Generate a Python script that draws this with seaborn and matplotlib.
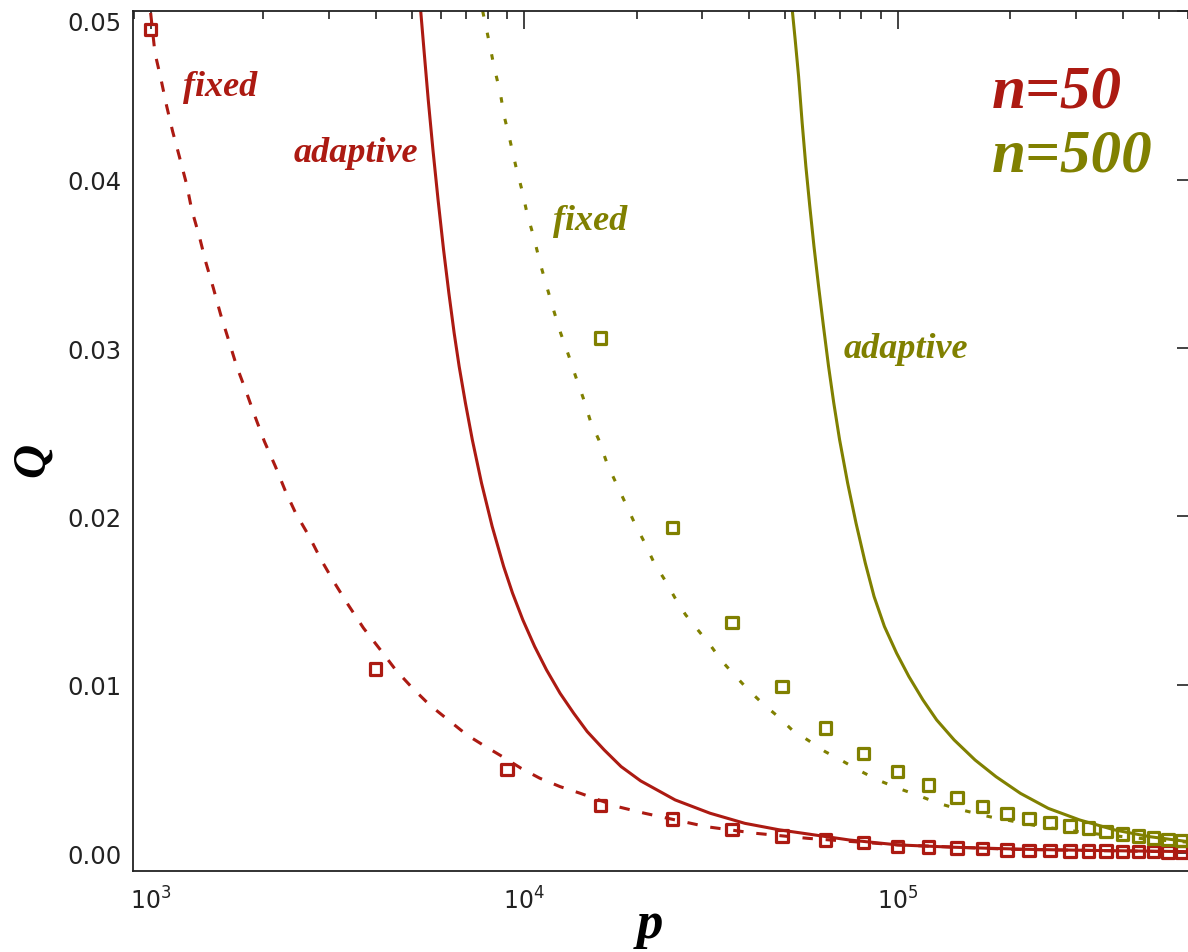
import numpy as np
import pandas as pd
import matplotlib
matplotlib.use("Agg")
import matplotlib.pyplot as plt
import matplotlib.ticker as mticker
import seaborn as sns

# ---------------- data ----------------
p_markers_n50 = [1000, 4000, 9000, 16000, 25000, 36000, 49000, 64000, 81000, 100000,
                 121000, 144000, 169000, 196000, 225000, 256000, 289000, 324000,
                 361000, 400000, 441000, 484000, 529000, 576000]
q_markers_n50 = [0.0489, 0.01095, 0.00497, 0.00283, 0.00203, 0.00140, 0.00104, 0.00080,
                 0.00063, 0.00042, 0.00038, 0.00031, 0.00028, 0.00020, 0.00018, 0.00016,
                 0.00015, 0.00014, 0.00013, 0.00012, 0.00011, 0.00010, 0.00009, 0.00009]

p_markers_n500 = [16000, 25000, 36000, 49000, 64000, 81000, 100000, 121000, 144000,
                  169000, 196000, 225000, 256000, 289000, 324000, 361000, 400000,
                  441000, 484000, 529000, 576000]
q_markers_n500 = [0.0306, 0.01935, 0.0137, 0.0099, 0.00743, 0.00594, 0.00485, 0.00406,
                  0.00333, 0.00277, 0.00238, 0.00208, 0.00182, 0.00162, 0.00149, 0.00130,
                  0.00115, 0.00103, 0.00092, 0.00082, 0.00076]

fixed50_p = [1000, 1027, 1064, 1104, 1145, 1193, 1249, 1288, 1350, 1407, 1472, 1540, 1621,
             1700, 1801, 1903, 2016, 2158, 2297, 2445, 2659, 2860, 3110, 3381, 3715, 4123,
             4530, 5029, 5583, 6263, 7026, 7880, 8748, 9812, 11010, 12480, 14150, 17800,
             21000, 30780, 41590, 57430, 100000, 200000, 600000]
fixed50_q = [0.0499, 0.04752, 0.04604, 0.04436, 0.04287, 0.04139, 0.03970, 0.03822, 0.03663,
             0.03505, 0.03356, 0.03198, 0.03040, 0.02891, 0.02743, 0.02594, 0.02446, 0.02297,
             0.02149, 0.02020, 0.01881, 0.01743, 0.01604, 0.01475, 0.01337, 0.01208, 0.01089,
             0.00980, 0.00881, 0.00792, 0.00703, 0.00634, 0.00574, 0.00505, 0.00446, 0.00396,
             0.00356, 0.00277, 0.00238, 0.00158, 0.00119, 0.00089, 0.00050, 0.00024, 0.00008]

adapt50_p = [5286, 5392, 5536, 5699, 5882, 6085, 6287, 6496, 6699, 6964, 7266, 7690, 8211,
             8813, 9309, 9920, 10669, 11479, 12481, 13571, 14750, 16380, 18180, 20510,
             25370, 31460, 38990, 48330, 59970, 74320, 100000, 141700, 217800, 334700, 600000]
adapt50_q = [0.05000, 0.04772, 0.04475, 0.04178, 0.03881, 0.03584, 0.03327, 0.03089, 0.02891,
             0.02673, 0.02455, 0.02198, 0.01941, 0.01703, 0.01545, 0.01386, 0.01228, 0.01089,
             0.00950, 0.00832, 0.00723, 0.00614, 0.00515, 0.00430, 0.00317, 0.00238, 0.00178,
             0.00139, 0.00109, 0.00079, 0.00050, 0.00036, 0.00024, 0.00017, 0.00010]

fixed500_p = [7746, 8070, 8321, 8632, 8846, 9179, 9502, 9858, 10200, 10630, 11030, 11490,
              12020, 12520, 13180, 13730, 14390, 15050, 15830, 16720, 17800, 18760, 19760,
              21000, 22300, 23790, 25370, 27060, 29170, 31460, 33910, 36560, 39850, 43430,
              47830, 52130, 57430, 63940, 70440, 78430, 88320, 100400, 114300, 128600,
              146300, 175600, 242500, 334700, 462200, 600000]
fixed500_q = [0.0500, 0.04811, 0.04663, 0.04515, 0.04376, 0.04227, 0.04079, 0.03941, 0.03792,
              0.03653, 0.03506, 0.03367, 0.03218, 0.03090, 0.02951, 0.02833, 0.02704, 0.02566,
              0.02457, 0.02307, 0.02178, 0.02069, 0.01960, 0.01846, 0.01723, 0.01624, 0.01515,
              0.01416, 0.01327, 0.01238, 0.01139, 0.01059, 0.00970, 0.00891, 0.00812, 0.00733,
              0.00673, 0.00604, 0.00554, 0.00495, 0.00436, 0.00386, 0.00341, 0.00297, 0.00261,
              0.00218, 0.00158, 0.00117, 0.00085, 0.00066]

adapt500_p = [52260, 53170, 54300, 55510, 56790, 58180, 59700, 61420, 63300, 65310, 67440,
              69900, 73480, 77380, 81930, 86470, 92170, 99380, 107150, 116860, 127190,
              141700, 161200, 183400, 213200, 253100, 307200, 380800, 472300, 600000]
adapt500_q = [0.05000, 0.04831, 0.04613, 0.04337, 0.04079, 0.03842, 0.03604, 0.03367, 0.03129,
              0.02892, 0.02675, 0.02457, 0.02198, 0.01960, 0.01723, 0.01525, 0.01347, 0.01188,
              0.01050, 0.00911, 0.00792, 0.00673, 0.00554, 0.00455, 0.00356, 0.00267, 0.00198,
              0.00139, 0.00099, 0.00069]

y_ticks = [0.00, 0.01, 0.02, 0.03, 0.04, 0.05]
y_tick_labels = ["0.00", "0.01", "0.02", "0.03", "0.04", "0.05"]

RED = "#AC1A12"
OLIVE = "#808000"
INK = "#222222"

# ---------------- figure ----------------
sns.set_style("white")
plt.rcParams["font.family"] = ["DejaVu Sans"]

W, H = 1188, 953
fig = plt.figure(figsize=(W / 100, H / 100), dpi=100)
# the right frame edge lies just beyond the picture, as in the reference
ax = fig.add_axes([133 / W, 1 - 872 / H, (1199 - 133) / W, (872 - 12) / H])
ax.set_xscale("log")

lw = 2.2
sns.lineplot(x=fixed50_p, y=fixed50_q, ax=ax, color=RED, lw=lw, sort=False)
ax.lines[-1].set_dashes([3.4, 4.2])
sns.lineplot(x=adapt50_p, y=adapt50_q, ax=ax, color=RED, lw=lw, sort=False)
sns.lineplot(x=fixed500_p, y=fixed500_q, ax=ax, color=OLIVE, lw=lw, sort=False)
ax.lines[-1].set_dashes([1.8, 5.4])
sns.lineplot(x=adapt500_p, y=adapt500_q, ax=ax, color=OLIVE, lw=lw, sort=False)

sns.scatterplot(x=p_markers_n50, y=q_markers_n50, ax=ax, marker="s", s=68,
                facecolors="none", edgecolor=RED, linewidth=2.3, zorder=5)
sns.scatterplot(x=p_markers_n500, y=q_markers_n500, ax=ax, marker="s", s=68,
                facecolors="none", edgecolor=OLIVE, linewidth=2.3, zorder=5)

ax.set_xlim(897, 6.41e5)
ax.set_ylim(-0.00105, 0.05001)

# ticks
ax.xaxis.set_major_locator(mticker.LogLocator(base=10, numticks=10))
ax.xaxis.set_minor_locator(mticker.LogLocator(base=10, subs=np.arange(2, 10), numticks=100))
ax.xaxis.set_minor_formatter(mticker.NullFormatter())
ax.set_yticks(y_ticks)
ax.set_yticklabels(y_tick_labels)
ax.yaxis.set_minor_locator(mticker.MultipleLocator(0.001))

ax.tick_params(which="both", direction="in", top=True, right=True, color=INK,
               labelcolor=INK, width=1.2)
ax.tick_params(axis="x", which="major", length=13, labelsize=17, pad=11)
ax.tick_params(axis="x", which="minor", length=6)
ax.tick_params(axis="y", which="major", length=16, labelsize=17.5, pad=8)
ax.tick_params(axis="y", which="minor", length=8)
ax.yaxis.get_major_ticks()[-1].label1.set_verticalalignment("top")

for sp in ax.spines.values():
    sp.set_color(INK)
    sp.set_linewidth(1.3)

# axis labels
lab_font = dict(family="Liberation Serif", style="italic", weight="bold", color="black")
ax.set_xlabel("p", fontsize=38, **lab_font)
ax.xaxis.set_label_coords((650 - 133) / (1199 - 133), -0.062)
ax.xaxis.label.set_verticalalignment("center")
ax.set_ylabel("Q", fontsize=34, **lab_font)
ax.yaxis.set_label_coords(-(133 - 33) / (1199 - 133), 0.479)
ax.yaxis.label.set_verticalalignment("center")

# annotations
txt = dict(family="Liberation Serif", style="italic", weight="bold", ha="center", va="center")
ax.text(1533, 0.0455, "fixed", color=RED, fontsize=26, **txt)
ax.text(3545, 0.0416, "adaptive", color=RED, fontsize=26, **txt)
ax.text(15010, 0.0376, "fixed", color=OLIVE, fontsize=26, **txt)
ax.text(105250, 0.0300, "adaptive", color=OLIVE, fontsize=26, **txt)
big = dict(family="Liberation Serif", style="italic", weight="bold", ha="left", va="center")
ax.text(178900, 0.04522, "n=50", color=RED, fontsize=44, **big)
ax.text(178900, 0.04142, "n=500", color=OLIVE, fontsize=44, **big)

fig.savefig("out.png", dpi=100, facecolor="white")
